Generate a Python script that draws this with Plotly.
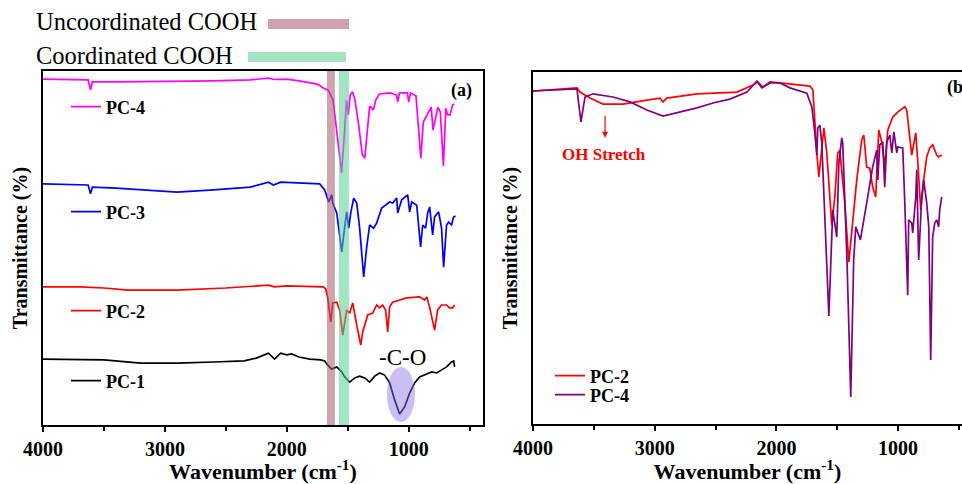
import plotly.graph_objects as go

W, H = 962, 484
SERIF = "Liberation Serif"

# ---------------- Panel (a): stacked FTIR spectra (offset, arbitrary units) ----------------
pc4_a_wn = [4000, 3700, 3630, 3610, 3595, 3400, 3000, 2600, 2300, 2150, 2100, 2000, 1900, 1750, 1700,
            1660, 1620, 1580, 1550, 1525, 1510, 1495, 1480, 1460, 1440, 1410, 1380, 1360, 1340, 1320,
            1290, 1270, 1240, 1150, 1100, 1090, 1075, 1010, 1000, 985, 940, 900, 880, 840, 815, 800,
            780, 760, 740, 715, 695, 680, 660, 640, 625]
pc4_a_t = [97.7, 97.7, 97.5, 94.6, 96.9, 96.9, 97.0, 97.2, 97.5, 98.0, 97.6, 97.7, 97.2, 96.3, 95.2,
           94.6, 91.8, 80.5, 71.2, 83.3, 91.8, 87.6, 93.2, 94.1, 91.8, 84.7, 76.3, 75.4, 83.3, 90.1,
           89.0, 91.8, 93.5, 93.8, 93.2, 91.2, 93.8, 93.8, 91.2, 93.8, 93.0, 75.4, 85.6, 88.4, 89.8, 83.3,
           86.7, 89.8, 88.4, 73.2, 89.5, 87.6, 87.6, 90.4, 90.7]

pc3_a_wn = [4000, 3700, 3630, 3610, 3595, 3400, 3200, 2900, 2600, 2300, 2150, 2110, 2050, 1950, 1800,
            1730, 1689, 1656, 1631, 1623, 1590, 1549, 1525, 1508, 1492, 1475, 1451, 1426, 1402, 1369,
            1344, 1320, 1287, 1262, 1221, 1156, 1131, 1098, 1090, 1057, 1008, 992, 975, 934, 902, 885,
            861, 844, 828, 803, 787, 754, 730, 713, 689, 672, 648, 631, 615]
pc3_a_t = [68.1, 67.8, 67.8, 65.3, 67.2, 66.9, 66.4, 65.8, 66.4, 67.2, 68.6, 67.8, 68.6, 68.4, 68.1,
           68.1, 66.4, 63.0, 65.0, 62.7, 59.9, 48.9, 55.9, 60.2, 55.6, 59.9, 64.1, 62.7, 55.6, 41.8,
           50.3, 56.5, 55.6, 57.1, 61.3, 63.0, 62.7, 64.1, 59.9, 63.6, 65.0, 60.2, 63.0, 62.1, 50.3, 56.5,
           55.6, 59.9, 61.6, 53.7, 58.8, 60.2, 55.6, 44.6, 56.5, 57.3, 56.5, 58.8, 59.0]

pc2_a_wn = [4000, 3700, 3500, 3300, 2900, 2500, 2150, 2100, 2000, 1811, 1700, 1680, 1664, 1639, 1623,
            1590, 1566, 1541, 1508, 1484, 1459, 1426, 1393, 1377, 1336, 1295, 1262, 1238, 1213, 1189,
            1172, 1156, 1131, 1074, 1016, 910, 869, 852, 828, 787, 762, 730, 689, 664, 639, 623]
pc2_a_t = [39.0, 39.0, 38.7, 38.1, 38.1, 38.7, 39.5, 39.0, 39.3, 39.0, 39.0, 38.4, 35.9, 29.1, 34.5,
           34.7, 32.5, 25.4, 32.5, 31.6, 34.5, 28.2, 22.6, 26.3, 31.1, 31.6, 33.9, 33.1, 33.9, 32.5,
           26.3, 33.3, 34.7, 35.3, 35.9, 36.2, 35.3, 36.2, 33.3, 26.8, 32.5, 33.9, 33.9, 33.1, 33.1, 33.9]

pc1_a_wn = [4000, 3700, 3500, 3200, 2900, 2600, 2350, 2250, 2150, 2100, 2050, 2000, 1960, 1900, 1811,
            1720, 1689, 1664, 1631, 1590, 1549, 1525, 1484, 1443, 1402, 1361, 1320, 1279, 1238, 1197,
            1156, 1115, 1074, 1033, 992, 951, 910, 852, 811, 770, 730, 689, 648, 631, 623]
pc1_a_t = [18.6, 18.6, 18.4, 17.5, 17.5, 17.8, 18.1, 18.9, 20.3, 18.6, 20.3, 19.8, 20.1, 19.2, 18.6,
           18.4, 18.1, 16.9, 15.8, 16.4, 15.0, 13.6, 12.1, 13.3, 13.8, 13.3, 12.1, 13.8, 14.7, 14.1,
           11.9, 7.1, 3.1, 5.1, 9.0, 11.9, 13.6, 14.4, 15.0, 14.7, 15.5, 16.4, 17.8, 18.1, 16.4]

# ---------------- Panel (b): overlaid spectra ----------------
pc2_b_wn = [4000, 3639, 3614, 3532, 3425, 3260, 3064, 2957, 2932, 2900, 2653, 2324, 2193, 2153, 2111,
            2053, 1971, 1725, 1700, 1684, 1668, 1651, 1627, 1610, 1586, 1545, 1520, 1496, 1479, 1438,
            1405, 1381, 1340, 1299, 1282, 1258, 1233, 1209, 1184, 1159, 1134, 1110, 1085, 1044, 1003,
            945, 929, 888, 872, 855, 839, 814, 790, 765, 740, 716, 683, 667, 642]
pc2_b_t = [94.6, 95.5, 94.3, 92.6, 90.9, 90.9, 92.0, 92.6, 91.5, 92.6, 93.8, 94.3, 96.3, 97.2, 95.7,
           97.2, 96.9, 96.0, 94.9, 84.1, 77.0, 70.2, 78.7, 84.1, 77.0, 56.5, 64.5, 77.0, 77.8, 62.8,
           46.0, 55.1, 69.3, 80.7, 82.1, 73.0, 72.7, 67.3, 64.5, 83.5, 80.1, 73.0, 83.5, 87.2, 88.6,
           90.1, 89.2, 76.4, 79.8, 82.7, 75.0, 60.8, 69.3, 75.9, 78.4, 79.3, 76.4, 75.9, 76.4]

pc4_b_wn = [4000, 3639, 3606, 3573, 3507, 3343, 3203, 3064, 2932, 2793, 2653, 2521, 2382, 2242, 2160,
            2120, 2053, 1971, 1889, 1750, 1709, 1684, 1668, 1660, 1643, 1627, 1600, 1569, 1537, 1504,
            1487, 1463, 1455, 1420, 1389, 1365, 1348, 1330, 1310, 1258, 1209, 1176, 1167, 1151, 1126,
            1110, 1093, 1068, 1052, 1035, 1011, 1003, 962, 945, 921, 913, 888, 880, 855, 847, 831,
            806, 790, 765, 748, 732, 716, 699, 683, 667, 658, 642]
pc4_b_t = [94.6, 95.2, 85.8, 92.9, 93.8, 92.9, 91.5, 89.2, 87.5, 88.6, 89.8, 91.2, 92.3, 94.3, 97.4,
           95.5, 96.9, 96.9, 95.5, 94.0, 90.1, 82.7, 76.4, 84.1, 84.9, 79.8, 55.1, 30.7, 60.8, 53.1,
           74.1, 81.3, 79.8, 46.6, 7.7, 46.6, 56.0, 54.3, 52.3, 62.8, 73.0, 77.8, 69.3, 79.3, 80.1,
           67.3, 80.1, 82.1, 77.0, 83.0, 77.0, 78.7, 78.4, 62.8, 36.6, 58.0, 57.1, 54.3, 64.5, 72.2, 46.6,
           64.5, 69.3, 62.8, 56.0, 18.2, 53.1, 57.1, 58.0, 56.0, 60.8, 64.5]

# highlighted wavenumber bands (cm-1)
uncoord_band = [1670, 1605]
coord_band = [1572, 1490]
co_region = [1178, 948]

fig = go.Figure()

def add(wn, t, name, color, xa, ya, leg):
    fig.add_trace(go.Scatter(x=wn, y=t, mode="lines", name="<b>%s</b>" % name,
                             line=dict(color=color, width=1.7), xaxis=xa, yaxis=ya,
                             legend=leg, showlegend=True))

add(pc4_a_wn, pc4_a_t, "PC-4", "#ff00ff", "x", "y", "legend")
add(pc3_a_wn, pc3_a_t, "PC-3", "#0000ff", "x", "y", "legend2")
add(pc2_a_wn, pc2_a_t, "PC-2", "#ff0000", "x", "y", "legend3")
add(pc1_a_wn, pc1_a_t, "PC-1", "#000000", "x", "y", "legend4")
add(pc2_b_wn, pc2_b_t, "PC-2", "#ff0000", "x2", "y2", "legend5")
add(pc4_b_wn, pc4_b_t, "PC-4", "#800080", "x2", "y2", "legend6")

def px(x):
    return x / W

def py(y):
    return 1 - y / H

legfont = dict(family=SERIF, size=18, color="#000")

def leg(xpix, ypix):
    return dict(x=px(xpix - 40), y=py(ypix), xanchor="left", yanchor="middle",
                bgcolor="rgba(0,0,0,0)", font=legfont, borderwidth=0)

axis_common = dict(showline=True, linecolor="#000", linewidth=1.5, showgrid=False, zeroline=False,
                   automargin=False)
xcommon = dict(axis_common, ticks="outside", ticklen=5, tickwidth=1.5, tickcolor="#000",
               tick0=0, dtick=1000,
               minor=dict(ticks="outside", ticklen=4, tickwidth=1.5, tickcolor="#000", dtick=500, tick0=0),
               tickfont=dict(family=SERIF, size=20, color="#000", weight="bold"),
               title=dict(text="Wavenumber (cm<sup>-1</sup>)", standoff=4,
                          font=dict(family=SERIF, size=22, color="#000", weight="bold")))
ycommon = dict(axis_common, ticks="", showticklabels=False,
               title=dict(text="Transmittance (%)", standoff=8,
                          font=dict(family=SERIF, size=20, color="#000", weight="bold")))

fig.update_layout(
    width=W, height=H, margin=dict(l=0, r=0, t=0, b=0, autoexpand=False),
    paper_bgcolor="white", plot_bgcolor="white",
    xaxis=dict(xcommon, domain=[px(43), px(483)], range=[4000, 390], anchor="y", mirror=True),
    yaxis=dict(ycommon, domain=[py(425), py(71)], range=[0, 100], anchor="x", mirror=True),
    xaxis2=dict(xcommon, domain=[px(533), 1.0], range=[4000, 475], anchor="y2", mirror=True),
    yaxis2=dict(ycommon, domain=[py(424), py(72)], range=[0, 100], anchor="x2", mirror=False),
    legend=leg(106, 107), legend2=leg(106, 212), legend3=leg(106, 311), legend4=leg(106, 381),
    legend5=leg(590, 376), legend6=leg(590, 395),
)

shapes = []
band_rose = "rgba(168,87,106,0.55)"
band_green = "rgba(91,206,146,0.55)"
shapes.append(dict(type="rect", xref="x", yref="y domain", x0=uncoord_band[0], x1=uncoord_band[1],
                   y0=0, y1=1, fillcolor=band_rose, line=dict(width=0), layer="above"))
shapes.append(dict(type="rect", xref="x", yref="y domain", x0=coord_band[0], x1=coord_band[1],
                   y0=0, y1=1, fillcolor=band_green, line=dict(width=0), layer="above"))
shapes.append(dict(type="circle", xref="x", yref="y", x0=co_region[0], x1=co_region[1],
                   y0=0.85, y1=16.4, fillcolor="rgba(140,110,230,0.45)", line=dict(width=0),
                   layer="above"))
# key swatches at top
shapes.append(dict(type="rect", xref="paper", yref="paper", x0=px(268), x1=px(349), y0=py(29), y1=py(19),
                   fillcolor=band_rose, line=dict(width=0)))
shapes.append(dict(type="rect", xref="paper", yref="paper", x0=px(248), x1=px(346), y0=py(62), y1=py(52),
                   fillcolor=band_green, line=dict(width=0)))
fig.update_layout(shapes=shapes)

ann = []
ann.append(dict(xref="paper", yref="paper", x=px(34), y=py(22), xanchor="left", yanchor="middle",
                text="Uncoordinated COOH", showarrow=False, font=dict(family=SERIF, size=24.5, color="#000")))
ann.append(dict(xref="paper", yref="paper", x=px(34), y=py(55), xanchor="left", yanchor="middle",
                text="Coordinated COOH", showarrow=False, font=dict(family=SERIF, size=24.5, color="#000")))
ann.append(dict(xref="x", yref="y", x=563, y=94.4, text="<b>(a)</b>", showarrow=False,
                font=dict(family=SERIF, size=18, color="#000")))
ann.append(dict(xref="x", yref="y", x=1050, y=19.2, text="-C-O", showarrow=False,
                font=dict(family=SERIF, size=23, color="#000")))
ann.append(dict(xref="x2", yref="y2", x=615, y=95.5, xanchor="left", text="<b>(b)</b>", showarrow=False,
                font=dict(family=SERIF, size=18, color="#000")))
ann.append(dict(xref="x2", yref="y2", x=3417, y=76.7, text="<b>OH Stretch</b>", showarrow=False,
                font=dict(family=SERIF, size=17, color="#ff0000")))
ann.append(dict(xref="x2", yref="y2", x=3408, y=81.3, ax=3408, ay=88.0, axref="x2", ayref="y2",
                text="", showarrow=True, arrowhead=2, arrowsize=1, arrowwidth=1.2, arrowcolor="#ff0000"))
fig.update_layout(annotations=ann)

fig.write_html("out.html")
